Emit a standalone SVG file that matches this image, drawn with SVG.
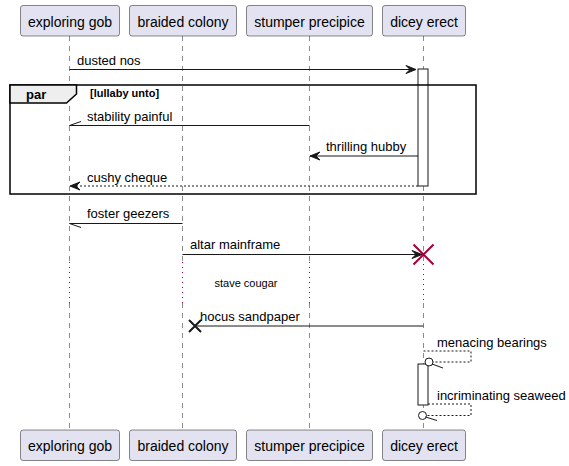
<svg xmlns="http://www.w3.org/2000/svg" width="569" height="466" viewBox="0 0 569 466">
<style>
.pbox{fill:#E2E2F0;stroke:#181818;stroke-width:0.5}
.ptxt{font-family:"Liberation Sans",Arial,sans-serif;font-size:14px;fill:#000;text-anchor:middle}
.mtxt{font-family:"Liberation Sans",Arial,sans-serif;font-size:13px;fill:#000}
.life{stroke:#181818;stroke-width:0.5;stroke-dasharray:5,5;fill:none}
.dot{stroke:#A80036;stroke-width:1;stroke-dasharray:1,4;fill:none}
.msg{stroke:#181818;stroke-width:1;fill:none}
.dash{stroke:#181818;stroke-width:1;stroke-dasharray:2,2;fill:none}
.head{fill:#181818;stroke:#181818;stroke-width:1}
.act{fill:#FFFFFF;stroke:#181818;stroke-width:1}
</style>
<g id="lifelines">
<path class="life" d="M69.5,36 V261 M69.5,303 V430"/>
<path class="life" d="M182.5,36 V261 M182.5,303 V430"/>
<path class="life" d="M309.5,36 V261 M309.5,303 V430"/>
<path class="life" d="M423.5,36 V261 M423.5,303 V430"/>
<path class="dot" d="M69.5,262 V304 M182.5,262 V304 M309.5,262 V304 M423.5,264 V304"/>
</g>
<g id="activations">
<rect class="act" x="418" y="69" width="10" height="117"/>
<rect class="act" x="418" y="364" width="10" height="41"/>
</g>
<g id="par-frame">
<rect x="10" y="85" width="466" height="109" fill="none" stroke="#000" stroke-width="1.5"/>
<polygon points="10,85 76.5,85 76.5,94 66.5,103 10,103" fill="#EEEEEE" stroke="#000" stroke-width="1.5"/>
<text x="26" y="99" font-family="Liberation Sans,Arial,sans-serif" font-size="13" font-weight="bold">par</text>
<text x="90" y="97" font-family="Liberation Sans,Arial,sans-serif" font-size="11" font-weight="bold">[lullaby unto]</text>
</g>
<g id="connectors">
<line class="msg" x1="69.5" y1="69.5" x2="416" y2="69.5"/>
<polygon class="head" points="406,65.5 416,69.5 406,73.5 410,69.5"/>
<text class="mtxt" x="77" y="65">dusted nos</text>

<line class="msg" x1="309.5" y1="125.5" x2="69.5" y2="125.5"/>
<line class="msg" x1="69.5" y1="125.5" x2="81" y2="121.5"/>
<text class="mtxt" x="87" y="121">stability painful</text>

<line class="msg" x1="418" y1="156" x2="310" y2="156"/>
<polygon class="head" points="320,152 310,156 320,160 316,156"/>
<text class="mtxt" x="326" y="151">thrilling hubby</text>

<line class="dash" x1="418" y1="186" x2="70" y2="186"/>
<polygon class="head" points="80,182 70,186 80,190 76,186"/>
<text class="mtxt" x="87" y="182">cushy cheque</text>

<line class="msg" x1="182.5" y1="223.5" x2="69.5" y2="223.5"/>
<line class="msg" x1="69.5" y1="223.5" x2="81" y2="227.5"/>
<text class="mtxt" x="87" y="218">foster geezers</text>

<line class="msg" x1="182.5" y1="254.5" x2="422" y2="254.5"/>
<polygon class="head" points="412,250.5 422,254.5 412,258.5 416,254.5"/>
<path d="M413.5,244.5 L433.5,264.5 M433.5,244.5 L413.5,264.5" stroke="#A80036" stroke-width="2" fill="none"/>
<text class="mtxt" x="190" y="249">altar mainframe</text>

<text x="246" y="287" font-family="Liberation Sans,Arial,sans-serif" font-size="11" text-anchor="middle">stave cougar</text>

<line class="msg" x1="423.5" y1="326" x2="195" y2="326"/>
<path d="M189,320 L201,332 M201,320 L189,332" stroke="#181818" stroke-width="2" fill="none"/>
<text class="mtxt" x="200" y="321">hocus sandpaper</text>

<path class="dash" d="M423.5,351 H471 V362 H433"/>
<circle cx="429" cy="362" r="4" fill="#FFFFFF" stroke="#181818" stroke-width="1"/>
<line class="msg" x1="432" y1="364" x2="443" y2="368"/>
<text class="mtxt" x="437" y="347">menacing bearings</text>

<path class="dash" d="M428,404 H471 V415.5 H426"/>
<circle cx="422.5" cy="415.5" r="4" fill="#FFFFFF" stroke="#181818" stroke-width="1"/>
<line class="msg" x1="425.5" y1="417" x2="437" y2="420.5"/>
<text class="mtxt" x="437" y="400">incriminating seaweed</text>
</g>
<g id="p-exploring-gob">
<rect class="pbox" x="20.5" y="5.5" width="99" height="30.5" rx="2.5"/>
<text class="ptxt" x="70" y="27">exploring gob</text>
<rect class="pbox" x="20.5" y="430" width="99" height="30.5" rx="2.5"/>
<text class="ptxt" x="70" y="451">exploring gob</text>
</g>
<g id="p-braided-colony">
<rect class="pbox" x="129.5" y="5.5" width="107" height="30.5" rx="2.5"/>
<text class="ptxt" x="183" y="27">braided colony</text>
<rect class="pbox" x="129.5" y="430" width="107" height="30.5" rx="2.5"/>
<text class="ptxt" x="183" y="451">braided colony</text>
</g>
<g id="p-stumper-precipice">
<rect class="pbox" x="246.5" y="5.5" width="126" height="30.5" rx="2.5"/>
<text class="ptxt" x="309.5" y="27">stumper precipice</text>
<rect class="pbox" x="246.5" y="430" width="126" height="30.5" rx="2.5"/>
<text class="ptxt" x="309.5" y="451">stumper precipice</text>
</g>
<g id="p-dicey-erect">
<rect class="pbox" x="382.5" y="5.5" width="83" height="30.5" rx="2.5"/>
<text class="ptxt" x="424" y="27">dicey erect</text>
<rect class="pbox" x="382.5" y="430" width="83" height="30.5" rx="2.5"/>
<text class="ptxt" x="424" y="451">dicey erect</text>
</g>
</svg>
